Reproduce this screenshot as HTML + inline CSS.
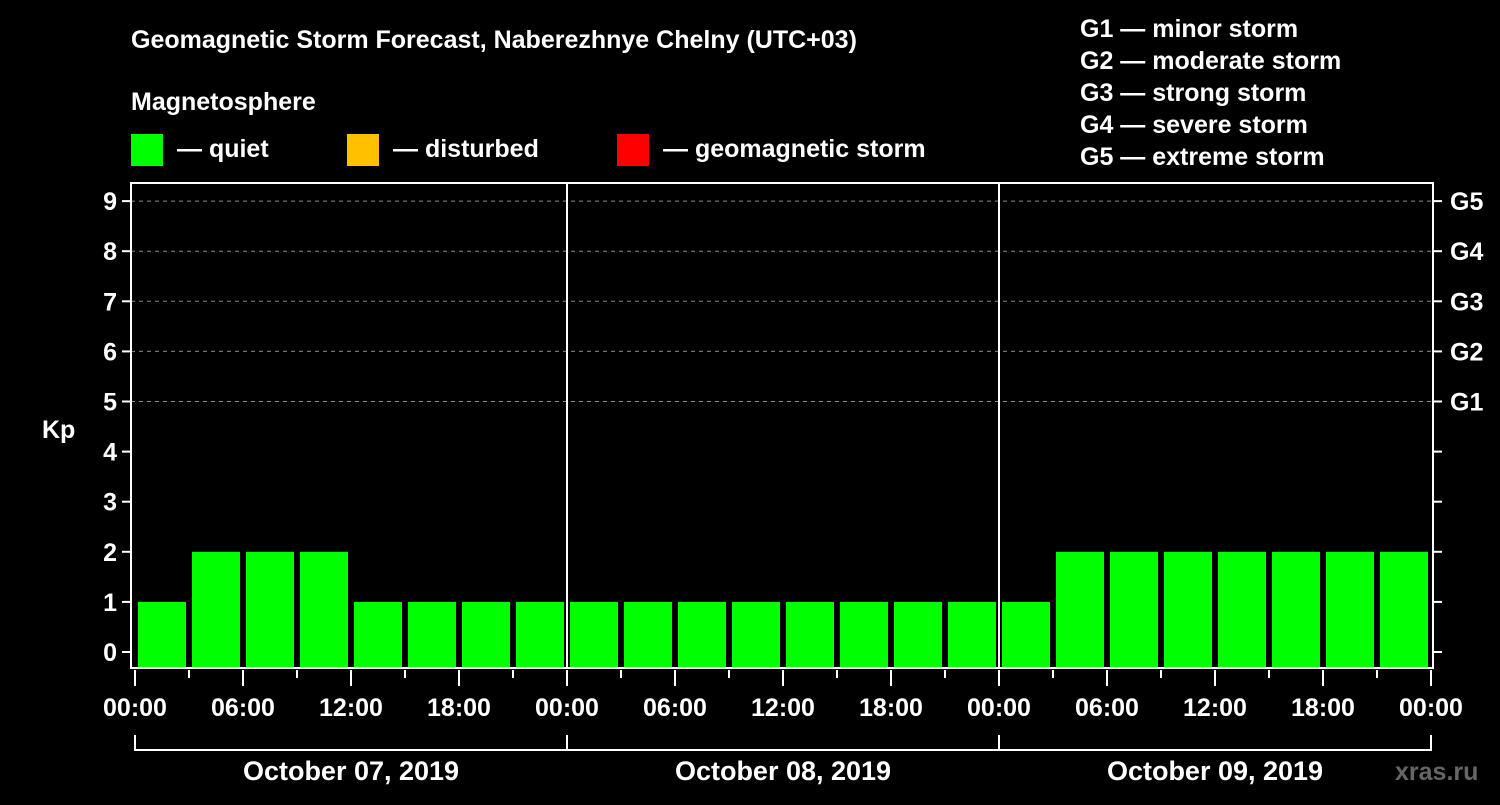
<!DOCTYPE html>
<html><head><meta charset="utf-8"><style>
body{margin:0;background:#000;width:1500px;height:800px;overflow:hidden}
svg text{font-family:"Liberation Sans",Arial,sans-serif;font-weight:bold;fill:#fff}
</style></head><body>
<svg id="c" width="1500" height="800" xmlns="http://www.w3.org/2000/svg">
<text x="131" y="48" font-size="25">Geomagnetic Storm Forecast, Naberezhnye Chelny (UTC+03)</text>
<text x="131" y="110" font-size="25">Magnetosphere</text>
<g>
<rect x="131" y="134" width="32" height="32" fill="#00ff00"/>
<text x="177" y="157" font-size="25">— quiet</text>
<rect x="347" y="134" width="32" height="32" fill="#ffc000"/>
<text x="393" y="157" font-size="25">— disturbed</text>
<rect x="617" y="134" width="32" height="32" fill="#ff0000"/>
<text x="663" y="157" font-size="25">— geomagnetic storm</text>
</g>
<g font-size="25">
<text x="1080" y="37">G1 — minor storm</text>
<text x="1080" y="69">G2 — moderate storm</text>
<text x="1080" y="101">G3 — strong storm</text>
<text x="1080" y="133">G4 — severe storm</text>
<text x="1080" y="165">G5 — extreme storm</text>
</g>
<text x="42" y="438" font-size="25">Kp</text>
<g id="plot"></g>
<text x="1395" y="780" font-size="25" style="fill:#666">xras.ru</text>
</svg>
<script>
const kpValues=[1,2,2,2,1,1,1,1, 1,1,1,1,1,1,1,1, 1,2,2,2,2,2,2,2];
const dayLabels=["October 07, 2019","October 08, 2019","October 09, 2019"];
const hourLabels=["00:00","06:00","12:00","18:00"];
const yTicks=[0,1,2,3,4,5,6,7,8,9];
const gLabels={5:"G1",6:"G2",7:"G3",8:"G4",9:"G5"};
const NS="http://www.w3.org/2000/svg";
const g=document.getElementById('plot');
const L=131,R=1433,T=183,B=668,X0=135,DAY=432;
const y=v=>652-v*50.1;
const x=h=>X0+h*DAY/24;
function mk(t,a,p){const e=document.createElementNS(NS,t);for(const k in a)e.setAttribute(k,a[k]);(p||g).appendChild(e);return e;}
yTicks.forEach(v=>{
  if(v>=5){const gl=mk('line',{x1:L,x2:R,y1:y(v),y2:y(v),stroke:'#888','stroke-dasharray':'4,4'});
  
  }
  mk('line',{x1:L-9,x2:L,y1:y(v),y2:y(v),stroke:'#fff','stroke-width':2});
  mk('line',{x1:R,x2:R+9,y1:y(v),y2:y(v),stroke:'#fff','stroke-width':2});
  const t=mk('text',{x:L-14,y:y(v)+9,'font-size':25,'text-anchor':'end'});t.textContent=v;
  
  
  if(gLabels[v]){const r=mk('text',{x:1450,y:y(v)+9,'font-size':25});r.textContent=gLabels[v];
  
  }
});
kpValues.forEach((v,i)=>{
  const c=v<4?'#00ff00':(v<5?'#ffc000':'#ff0000');
  const b=mk('rect',{x:x(i*3)+3,y:y(v),width:48,height:B-y(v),fill:c});
  
  
});
[1,2].forEach(d=>mk('line',{x1:x(d*24),x2:x(d*24),y1:T,y2:B,stroke:'#fff','stroke-width':2}));
const f=mk('rect',{x:L,y:T,width:R-L,height:B-T,fill:'none',stroke:'#fff','stroke-width':2});


for(let h=0;h<=72;h+=3){
  const major=h%6===0;
  mk('line',{x1:x(h),x2:x(h),y1:B+2,y2:B+(major?18:10),stroke:'#fff','stroke-width':2});
  if(major){const t=mk('text',{x:x(h),y:716,'font-size':25,'text-anchor':'middle'});t.textContent=hourLabels[(h/6)%4];
  
  }
}
mk('path',{d:`M${x(0)},735V750H${x(72)}V735M${x(24)},735V750M${x(48)},735V750`,stroke:'#fff','stroke-width':2,fill:'none'});
dayLabels.forEach((s,d)=>{const t=mk('text',{x:x(d*24+12),y:780,'font-size':27,'text-anchor':'middle'});t.textContent=s;
  
  });
</script>
</body></html>
